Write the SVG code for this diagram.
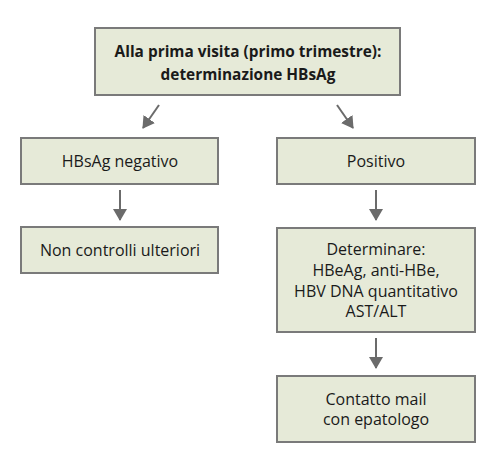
<svg xmlns="http://www.w3.org/2000/svg" width="496" height="472" viewBox="0 0 496 472">
<defs>
<style>
.box{fill:#e6ead8;stroke:#7a7a7a;stroke-width:2}
.t{font-family:"Open Sans","Liberation Sans",sans-serif;font-size:16px;fill:#1a1a1a;text-anchor:middle}
.b{font-weight:bold;font-size:15.4px}
.c{stroke:#6b6b6b;stroke-width:2;fill:none}
</style>
<marker id="a" viewBox="0 0 12 14" refX="11" refY="7" markerWidth="12" markerHeight="14" markerUnits="userSpaceOnUse" orient="auto">
<path d="M0,0 L12,7 L0,14 z" fill="#6b6b6b"/>
</marker>
</defs>
<g id="connectors">
<line class="c" x1="159" y1="105" x2="143" y2="128" marker-end="url(#a)"/>
<line class="c" x1="337" y1="105" x2="353" y2="128" marker-end="url(#a)"/>
<line class="c" x1="120" y1="190" x2="120" y2="220" marker-end="url(#a)"/>
<line class="c" x1="376" y1="190" x2="376" y2="220" marker-end="url(#a)"/>
<line class="c" x1="376" y1="338" x2="376" y2="368" marker-end="url(#a)"/>
</g>
<g id="n1">
<rect class="box" x="95" y="28" width="305" height="67"/>
<text class="t b" x="248" y="57">Alla prima visita (primo trimestre):</text>
<text class="t b" x="248" y="80">determinazione HBsAg</text>
</g>
<g id="n2">
<rect class="box" x="21" y="138" width="197" height="46"/>
<text class="t" x="120" y="167">HBsAg negativo</text>
</g>
<g id="n3">
<rect class="box" x="277" y="138" width="198" height="46"/>
<text class="t" x="376" y="167">Positivo</text>
</g>
<g id="n4">
<rect class="box" x="21" y="227" width="197" height="46"/>
<text class="t" x="120" y="256">Non controlli ulteriori</text>
</g>
<g id="n5">
<rect class="box" x="277" y="228" width="198" height="104"/>
<text class="t" x="376" y="255">Determinare:</text>
<text class="t" x="376" y="276">HBeAg, anti-HBe,</text>
<text class="t" x="376" y="297">HBV DNA quantitativo</text>
<text class="t" x="376" y="317">AST/ALT</text>
</g>
<g id="n6">
<rect class="box" x="277" y="376" width="198" height="66"/>
<text class="t" x="376" y="405">Contatto mail</text>
<text class="t" x="376" y="425">con epatologo</text>
</g>
</svg>
